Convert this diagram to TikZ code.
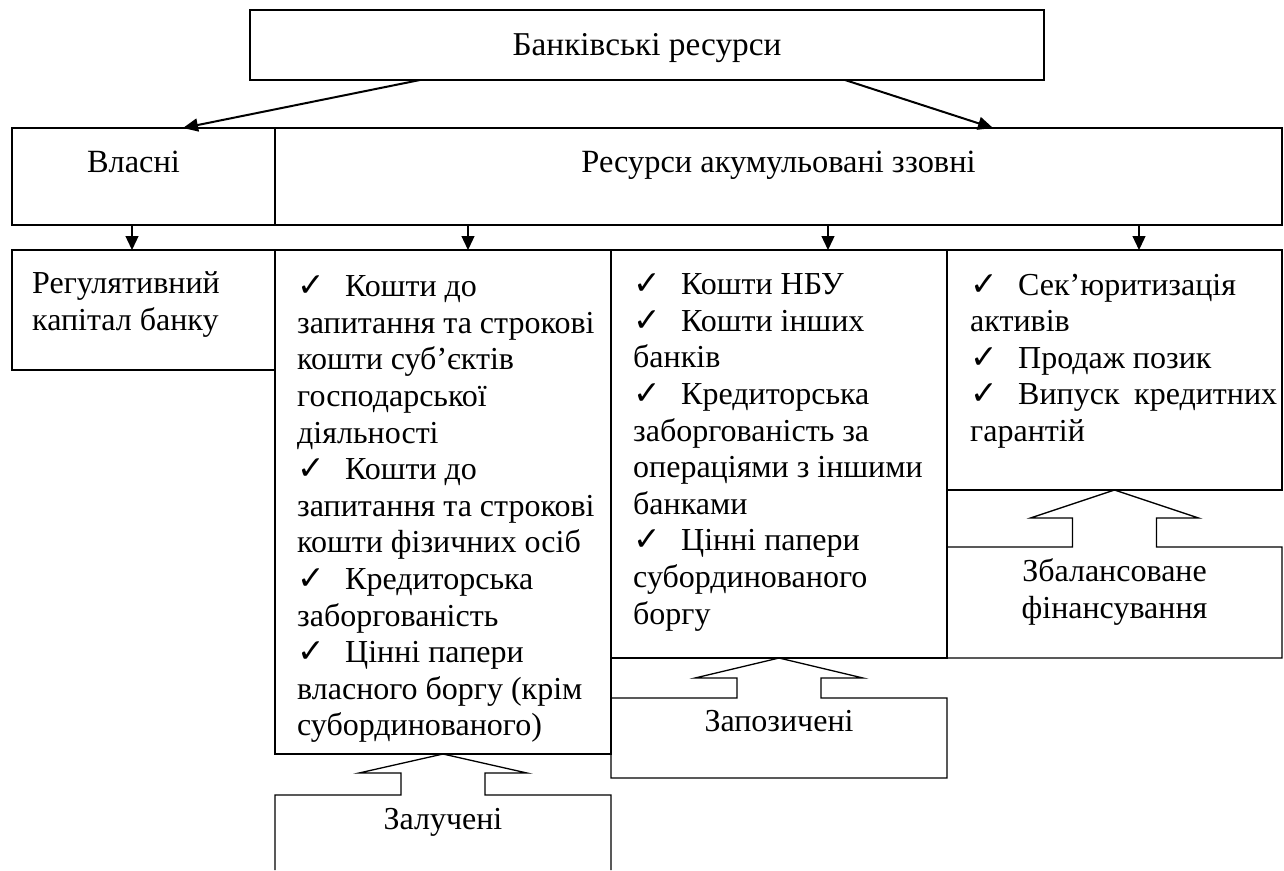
\documentclass[tikz,border=0pt]{standalone}
\usepackage{fontspec}
\setmainfont{Liberation Serif}
\newfontfamily\chkfont{DejaVu Sans}
\usetikzlibrary{arrows.meta}

\newcommand{\chk}{\makebox[48pt][l]{\chkfont\fontsize{33}{33}\selectfont ✓}}

\tikzset{
  box/.style={draw, line width=1.3pt, rectangle, anchor=north west, inner sep=0pt, outer sep=0pt},
  area/.style={rectangle, anchor=north west, inner sep=0pt, outer sep=0pt},
  txt/.style={anchor=north west, inner sep=0pt, align=left, execute at begin node=\strut},
  lbl/.style={anchor=base, inner sep=0pt},
  diag/.style={-{Triangle[length=15pt,width=13pt]}, line width=2pt},
  down/.style={-{Triangle[length=14pt,width=13pt]}, line width=1.3pt},
  hollow/.style={line width=1.3pt, line join=miter},
}

\begin{document}
\begin{tikzpicture}[x=1pt, y=-1pt, font=\fontsize{32}{36.6}\selectfont]

\fill[white] (0,0) rectangle (1284,870);

% top
\node[box, minimum width=794pt, minimum height=70pt] (top) at (250,10) {};
\node[lbl, font=\fontsize{33.3}{36.6}\selectfont] (toplbl) at ([yshift=-45pt]top.north) {Банківські ресурси};

% second row
\node[box, minimum width=263pt, minimum height=97pt] (own) at (12,128) {};
\node[box, minimum width=1007pt, minimum height=97pt] (ext) at (275,128) {};
\node[lbl, font=\fontsize{32.4}{36.6}\selectfont] (ownlbl) at ([xshift=-10pt,yshift=-44pt]own.north) {Власні};
\node[lbl, font=\fontsize{32.4}{36.6}\selectfont] (extlbl) at ([yshift=-44pt]ext.north) {Ресурси акумульовані ззовні};

\draw[diag] ([xshift=170pt]top.south west) -- ([xshift=171pt]own.north west);
\draw[diag] ([xshift=595pt]top.south west) -- ([xshift=718pt]ext.north west);

% third row
\node[box, minimum width=263pt, minimum height=120pt] (reg) at (12,250) {};
\node[box, minimum width=336pt, minimum height=504pt] (b2) at (275,250) {};
\node[box, minimum width=336pt, minimum height=408pt] (b3) at (611,250) {};
\node[box, minimum width=335pt, minimum height=240pt] (b4) at (947,250) {};

\draw[down] ([xshift=-11.5pt]own.south) -- ([xshift=-11.5pt]reg.north);
\draw[down] ([xshift=-310.5pt]ext.south) -- ([xshift=25pt]b2.north);
\draw[down] ([xshift=49.5pt]ext.south) -- ([xshift=49pt]b3.north);
\draw[down] ([xshift=360.5pt]ext.south) -- ([xshift=24.5pt]b4.north);

\node[txt] (regtxt) at ([xshift=20pt,yshift=-21.6pt]reg.north west) {Регулятивний\\капітал банку};

\node[txt] (b2txt) at ([xshift=22pt,yshift=-25.6pt]b2.north west) {\chk Кошти до\\
запитання та строкові\\
кошти суб’єктів\\
господарської\\
діяльності\\
\chk Кошти до\\
запитання та строкові\\
кошти фізичних осіб\\
\chk Кредиторська\\
заборгованість\\
\chk Цінні папери\\
власного боргу (крім\\
субординованого)};

\node[txt] (b3txt) at ([xshift=22pt,yshift=-23.6pt]b3.north west) {\chk Кошти НБУ\\
\chk Кошти інших\\
банків\\
\chk Кредиторська\\
заборгованість за\\
операціями з іншими\\
банками\\
\chk Цінні папери\\
субординованого\\
боргу};

\node[txt] (b4txt) at ([xshift=23pt,yshift=-23.6pt]b4.north west) {\chk Сек’юритизація\\
активів\\
\chk Продаж позик\\
\hbox to 307pt{\chk Випуск\hfill кредитних}\\
гарантій};

% bottom boxes with hollow arrows
\node[area, minimum width=336pt, minimum height=75pt] (zal) at (275,795) {};
\node[area, minimum width=336pt, minimum height=80pt] (zap) at (611,698) {};
\node[area, minimum width=335pt, minimum height=111pt] (zb) at (947,547) {};

\draw[hollow] (zal.south west) -- (zal.north west) -- ([xshift=-42pt]zal.north) -- ++(0,-22) -- ++(-42,0) -- (b2.south) -- ++(84,19) -- ++(-42,0) -- ++(0,22) -- (zal.north east) -- (zal.south east);
\draw[hollow] (zap.north west) -- (zap.south west) -- (zap.south east) -- (zap.north east) -- ([xshift=42pt]zap.north) -- ++(0,-20) -- ++(42,0) -- (b3.south) -- ++(-84,20) -- ++(42,0) -- ++(0,20) -- cycle;
\draw[hollow] (zb.north west) -- (zb.south west) -- (zb.south east) -- (zb.north east) -- ([xshift=42pt]zb.north) -- ++(0,-29) -- ++(42,0) -- (b4.south) -- ++(-84,28) -- ++(42,0) -- ++(0,29) -- cycle;

\node[lbl] (zallbl) at ([yshift=-34pt]zal.north) {Залучені};
\node[lbl] (zaplbl) at ([yshift=-33pt]zap.north) {Запозичені};
\node[anchor=north, inner sep=0pt, align=center, font=\fontsize{32}{37}\selectfont, execute at begin node=\strut] (zblbl) at ([yshift=-11.6pt]zb.north) {Збалансоване\\фінансування};

\end{tikzpicture}
\end{document}
